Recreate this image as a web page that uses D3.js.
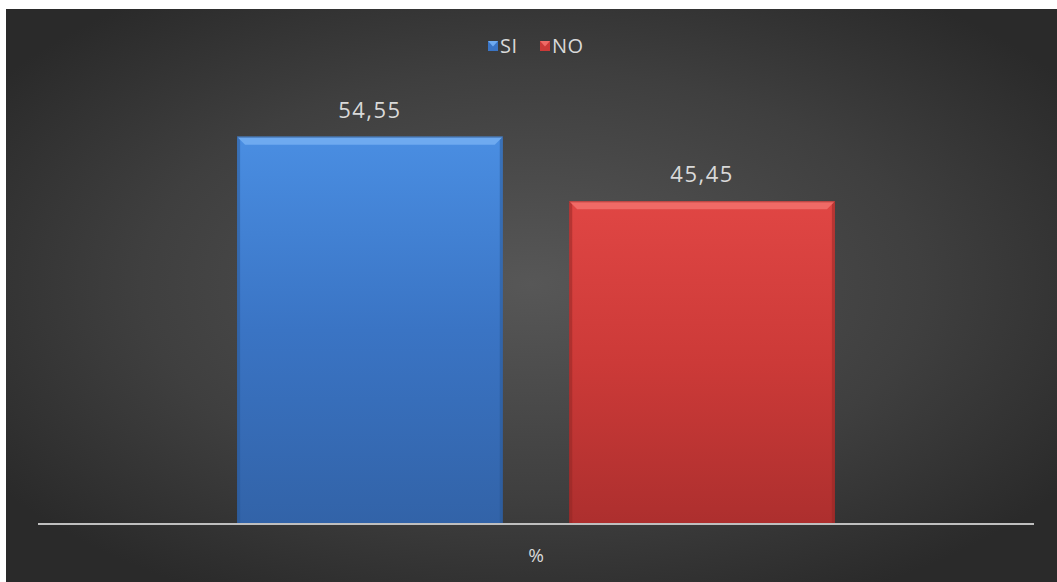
<!DOCTYPE html>
<html><head><meta charset="utf-8">
<script src="https://cdn.jsdelivr.net/npm/d3@7"></script>
<style>html,body{margin:0;padding:0;background:#fff;}svg{display:block;}</style>
</head><body>
<svg id="chart" width="1057" height="582"></svg>
<script>
const categories = ["%"];
const seriesNames = ["SI", "NO"];
const seriesValues = [54.55, 45.45];
const valueLabels = ["54,55", "45,45"];

const W = 1057, H = 582;
const FONT = "'Open Sans', Lato, sans-serif";
const svg = d3.select("#chart");
const defs = svg.append("defs");

const bg = defs.append("radialGradient").attr("id","bg")
  .attr("cx","50%").attr("cy","48%").attr("r","62%");
bg.append("stop").attr("offset","0%").attr("stop-color","#575757");
bg.append("stop").attr("offset","60%").attr("stop-color","#3f3f3f");
bg.append("stop").attr("offset","100%").attr("stop-color","#2a2a2a");

const colors = {SI:["#4a8ee2","#3a74c4","#3263a8"], NO:["#e04644","#cc3a38","#ad2f2e"]};
const bevel = {SI:"#6eaaf0", NO:"#f06a66"};
const edge = {SI:"#2a5590", NO:"#8f2524"};
seriesNames.forEach(s=>{
  const g = defs.append("linearGradient").attr("id","g"+s).attr("x1",0).attr("y1",0).attr("x2",0).attr("y2",1);
  g.append("stop").attr("offset","0%").attr("stop-color",colors[s][0]);
  g.append("stop").attr("offset","50%").attr("stop-color",colors[s][1]);
  g.append("stop").attr("offset","100%").attr("stop-color",colors[s][2]);
});

svg.append("rect").attr("x",6).attr("y",9).attr("width",W-6).attr("height",H-9).attr("fill","url(#bg)");

const plotL = 38, plotR = 1034, baseY = 524, topY = 98;
const x0 = d3.scaleBand().domain(categories).range([plotL, plotR]).paddingInner(0).paddingOuter(0.333);
const x1 = d3.scaleBand().domain(seriesNames).range([0, x0.bandwidth()]).paddingInner(0.2).paddingOuter(0);
const y = d3.scaleLinear().domain([0, 60]).range([baseY, topY]);

const data = seriesNames.map((s,i)=>({series:s, value:seriesValues[i], label:valueLabels[i], cat:categories[0]}));

const bars = svg.append("g").selectAll("g").data(data).join("g")
  .attr("transform", d=>`translate(${x0(d.cat)+x1(d.series)},0)`);

const bw = x1.bandwidth();
const bv = 8;
bars.append("rect").attr("x",0).attr("y",d=>y(d.value)).attr("width",bw).attr("height",d=>baseY-y(d.value))
  .attr("fill",d=>`url(#g${d.series})`);
bars.append("rect").attr("x",0).attr("y",d=>y(d.value)).attr("width",3).attr("height",d=>baseY-y(d.value))
  .attr("fill",d=>edge[d.series]).attr("opacity",0.5);
bars.append("rect").attr("x",bw-3).attr("y",d=>y(d.value)).attr("width",3).attr("height",d=>baseY-y(d.value))
  .attr("fill",d=>edge[d.series]).attr("opacity",0.5);
bars.append("path").attr("d",d=>{const t=y(d.value);return `M0,${t}L${bw},${t}L${bw-bv},${t+bv}L${bv},${t+bv}Z`;})
  .attr("fill",d=>bevel[d.series]);
bars.append("line").attr("x1",0).attr("x2",bw).attr("y1",d=>y(d.value)+0.5).attr("y2",d=>y(d.value)+0.5)
  .attr("stroke",d=>edge[d.series]).attr("stroke-width",1).attr("opacity",0.6);

bars.append("text").attr("x",bw/2).attr("y",d=>y(d.value)-19)
  .attr("text-anchor","middle").attr("font-family",FONT).attr("font-size",22).attr("letter-spacing",1.5)
  .attr("fill","#d9d9d9").text(d=>d.label);

const xAxis = d3.axisBottom(x0).tickSize(0).tickPadding(25);
const ax = svg.append("g").attr("transform",`translate(0,${baseY})`).call(xAxis);
ax.select(".domain").attr("stroke","#bfbfbf").attr("stroke-width",2).attr("d",`M${plotL},0H${plotR}`);
ax.selectAll("text").attr("font-family",FONT).attr("font-size",19).attr("fill","#d9d9d9");

const legend = svg.append("g").attr("transform","translate(488,46)");
const legX = [0, 52];
seriesNames.forEach((s,i)=>{
  const g = legend.append("g").attr("transform",`translate(${legX[i]},0)`);
  g.append("rect").attr("x",0).attr("y",-5).attr("width",10).attr("height",10).attr("fill",colors[s][1]);
  g.append("path").attr("d","M0,-5L10,-5L5,0.5Z").attr("fill",bevel[s]);
  g.append("text").attr("x",12).attr("y",7).attr("font-family",FONT).attr("font-size",20).attr("letter-spacing",0.5)
    .attr("fill","#d9d9d9").text(s);
});
</script>
</body></html>
